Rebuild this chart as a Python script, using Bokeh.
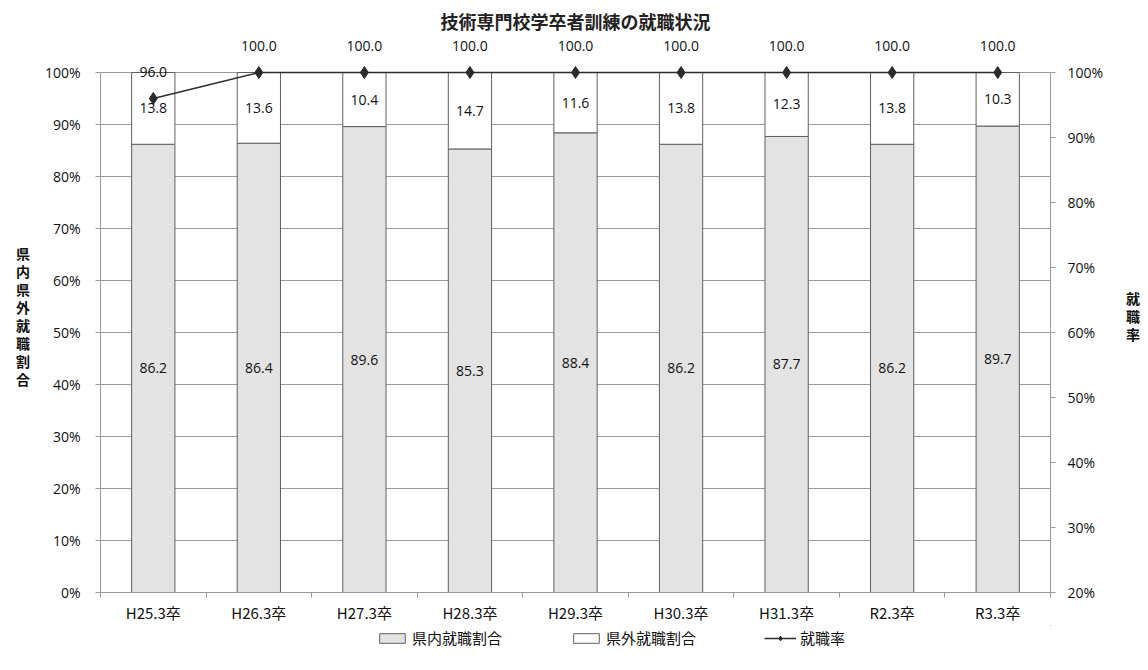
from bokeh.plotting import figure
from bokeh.layouts import column
from bokeh.models import (Range1d, LinearAxis, FixedTicker, CustomJSTickFormatter,
                          ColumnDataSource, Legend, LegendItem, PrintfTickFormatter)
from bokeh.core.properties import value
from bokeh.embed import file_html
from bokeh.resources import INLINE

categories = ["H25.3卒", "H26.3卒", "H27.3卒", "H28.3卒", "H29.3卒",
              "H30.3卒", "H31.3卒", "R2.3卒", "R3.3卒"]
in_pref = [86.2, 86.4, 89.6, 85.3, 88.4, 86.2, 87.7, 86.2, 89.7]
out_pref = [13.8, 13.6, 10.4, 14.7, 11.6, 13.8, 12.3, 13.8, 10.3]
employment_rate = [96.0, 100.0, 100.0, 100.0, 100.0, 100.0, 100.0, 100.0, 100.0]
share_ticks = [0, 10, 20, 30, 40, 50, 60, 70, 80, 90, 100]
rate_ticks = [20, 30, 40, 50, 60, 70, 80, 90, 100]
series_names = ["県内就職割合", "県外就職割合", "就職率"]

JP = "Noto Sans CJK JP"
NUM = "Open Sans"
AXIS_GRAY = "#9a9a9a"
BAR_EDGE = "#5f5f5f"
IN_FILL = "#e3e3e3"
LINE_COLOR = "#2b2b2b"
W = 1148
H_MAIN, H_LEGEND = 625, 45
LEFT, RIGHT, TOP, BOTTOM = 100, 98, 38, 33

# the frame reaches above 100% so value labels over the line are not clipped
frame_h = H_MAIN - TOP - BOTTOM
plot_h = 520
share_end = 100.0 * frame_h / plot_h
rate_end = 20 + 0.8 * share_end

n = len(categories)
slot_mid = [i + 0.5 for i in range(n)]      # centre of each category slot
slot_edge = list(range(n + 1))              # slot boundaries

src = ColumnDataSource(dict(
    x=slot_mid,
    inside=in_pref,
    outside=out_pref,
    rate=employment_rate,
    in_mid=[v / 2 for v in in_pref],
    out_mid=[a + b / 2 for a, b in zip(in_pref, out_pref)],
    in_txt=[f"{v:.1f}" for v in in_pref],
    out_txt=[f"{v:.1f}" for v in out_pref],
    rate_txt=[f"{v:.1f}" for v in employment_rate],
))

p = figure(width=W, height=H_MAIN, output_backend="svg", toolbar_location=None,
           x_range=Range1d(0, n), y_range=Range1d(0, share_end),
           x_axis_location=None, y_axis_location=None,
           min_border_left=LEFT, min_border_right=RIGHT,
           min_border_top=TOP, min_border_bottom=BOTTOM,
           title="技術専門校学卒者訓練の就職状況")
p.outline_line_color = None
p.background_fill_color = "white"
p.border_fill_color = "white"
p.title.align = "center"
p.title.text_font = JP
p.title.text_font_size = "18px"
p.title.text_font_style = "bold"
p.title.text_color = "#222222"

p.extra_y_ranges = {"rate": Range1d(20, rate_end)}

# horizontal gridlines
p.xgrid.visible = False
p.ygrid.ticker = FixedTicker(ticks=share_ticks)
p.ygrid.bounds = (0, 100)
p.ygrid.grid_line_color = AXIS_GRAY
p.ygrid.grid_line_width = 1

# stacked bars
p.vbar_stack(["inside", "outside"], x="x", width=0.41, source=src,
             fill_color=[IN_FILL, "white"], line_color=BAR_EDGE, line_width=1)

# employment rate line
p.line("x", "rate", source=src, y_range_name="rate", line_color=LINE_COLOR, line_width=1.5)
p.scatter("x", "rate", source=src, y_range_name="rate", marker="diamond", size=12,
          fill_color=LINE_COLOR, line_color=LINE_COLOR)

label_kw = dict(text_font=value(NUM), text_font_size="14px", text_color="#111111",
                text_align="center", text_baseline="middle")
p.text("x", "in_mid", text="in_txt", source=src, **label_kw)
p.text("x", "out_mid", text="out_txt", source=src, **label_kw)
p.text("x", "rate", text="rate_txt", source=src, y_range_name="rate", y_offset=-27, **label_kw)

num_ticks = dict(major_label_text_font=NUM, major_label_text_font_size="14px",
                 major_label_text_color="#111111")

# left axis: share of employment within / outside the prefecture
left = LinearAxis(ticker=FixedTicker(ticks=share_ticks), formatter=PrintfTickFormatter(format="%d%%"),
                  bounds=(0, 100), axis_line_color=AXIS_GRAY, major_tick_line_color=AXIS_GRAY,
                  major_tick_in=0, major_tick_out=5, minor_tick_line_color=None,
                  major_label_standoff=15,
                  axis_label="県\n内\n県\n外\n就\n職\n割\n合", axis_label_orientation="horizontal",
                  axis_label_text_font=JP, axis_label_text_font_size="14px",
                  axis_label_text_font_style="bold", axis_label_text_color="#111111",
                  axis_label_text_line_height=0.9,
                  axis_label_standoff=12, **num_ticks)
p.add_layout(left, "left")

# right axis: employment rate
right = LinearAxis(y_range_name="rate", ticker=FixedTicker(ticks=rate_ticks),
                   formatter=PrintfTickFormatter(format="%d%%"), bounds=(20, 100),
                   axis_line_color=AXIS_GRAY, major_tick_line_color=AXIS_GRAY,
                   major_tick_in=0, major_tick_out=5, minor_tick_line_color=None,
                   major_label_standoff=12,
                   axis_label="就\n職\n率", axis_label_orientation="horizontal",
                   axis_label_text_font=JP, axis_label_text_font_size="14px",
                   axis_label_text_font_style="bold", axis_label_text_color="#111111",
                   axis_label_text_line_height=0.9,
                   axis_label_standoff=20, **num_ticks)
p.add_layout(right, "right")

# bottom axis: category names at slot centres, tick marks at slot boundaries
bottom = LinearAxis(ticker=FixedTicker(ticks=slot_mid, minor_ticks=slot_edge),
                    formatter=CustomJSTickFormatter(args=dict(names=categories),
                                                    code="return names[Math.floor(tick)];"),
                    axis_line_color=AXIS_GRAY, major_tick_line_color=None,
                    minor_tick_line_color=AXIS_GRAY, minor_tick_in=0, minor_tick_out=5,
                    major_tick_in=0, major_tick_out=5, major_label_standoff=4,
                    major_label_text_font=JP, major_label_text_font_size="15px",
                    major_label_text_color="#111111")
p.add_layout(bottom, "below")

# legend strip under the chart; its swatch renderers hold one row placed outside the view
lf = figure(width=W, height=H_LEGEND, output_backend="svg", toolbar_location=None,
            x_range=Range1d(0, 1), y_range=Range1d(0, 1),
            x_axis_location=None, y_axis_location=None,
            min_border=0, outline_line_color=None)
lf.grid.visible = False
hidden = dict(x=[5], y=[5])
sw_in = lf.vbar(x=hidden["x"], top=hidden["y"], bottom=4, width=0.1,
                fill_color=IN_FILL, line_color=BAR_EDGE)
sw_out = lf.vbar(x=hidden["x"], top=hidden["y"], bottom=4, width=0.1,
                 fill_color="white", line_color=BAR_EDGE)
sw_line = lf.line(x=hidden["x"], y=hidden["y"], line_color=LINE_COLOR, line_width=1.5)
sw_pt = lf.scatter(x=hidden["x"], y=hidden["y"], marker="diamond", size=10,
                   fill_color=LINE_COLOR, line_color=LINE_COLOR)
legend = Legend(items=[
    LegendItem(label=series_names[0], renderers=[sw_in]),
    LegendItem(label=series_names[1], renderers=[sw_out]),
    LegendItem(label=series_names[2], renderers=[sw_line, sw_pt]),
], orientation="horizontal", location=(276, 22), border_line_color=None,
    background_fill_alpha=0,
    label_text_font=JP, label_text_font_size="15px", label_text_color="#111111",
    glyph_width=32, glyph_height=12, spacing=68, padding=0, margin=0, label_standoff=4)
lf.add_layout(legend)

open("out.html", "w").write(file_html(column(p, lf, spacing=0), INLINE))
